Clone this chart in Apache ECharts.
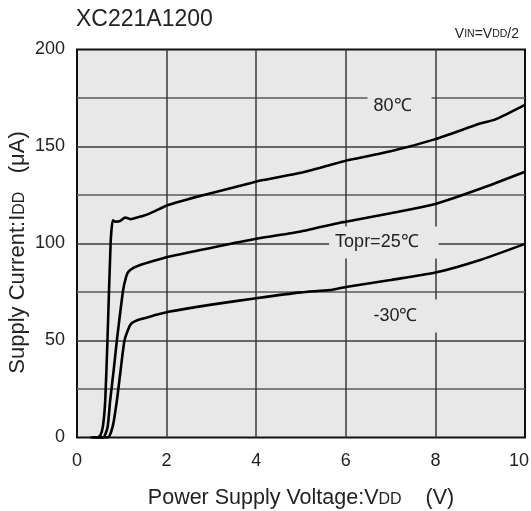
<!DOCTYPE html>
<html>
<head>
<meta charset="utf-8">
<script src="https://cdn.jsdelivr.net/npm/echarts@6/dist/echarts.min.js"></script>
<style>
html,body{margin:0;padding:0;background:#fff;}
#c{width:531px;height:511px;}
</style>
</head>
<body>
<div id="c"></div>
<script>
// ---- data ----
const titleText = 'XC221A1200';
const xTicks = [0, 2, 4, 6, 8, 10];
const yTicks = [0, 50, 100, 150, 200];

const v80 = [0.3, 0.44, 0.52, 0.58, 0.63, 0.68, 0.75, 0.80, 0.86, 0.95, 1.0, 1.07, 1.12, 1.2, 1.3, 1.45, 1.63, 2.03, 2.5, 3.12, 3.6, 4.15, 5, 5.65, 6, 7, 8, 9, 9.34, 10];
const i80 = [0, 0, 1, 6, 19, 50, 100, 112, 111.3, 111.5, 112.2, 113.4, 113.2, 112.5, 113.2, 114, 115.5, 119.8, 123, 126.7, 129.5, 132.7, 136.5, 140.5, 142.7, 147.5, 153.8, 161.8, 164, 171.5];

const v25 = [0.35, 0.58, 0.68, 0.74, 0.82, 0.89, 1.03, 1.1, 1.15, 1.25, 1.41, 1.7, 2.04, 3, 4, 5, 5.87, 6, 7, 8, 9, 10];
const i25 = [0, 0, 5, 19, 35, 50, 76, 83, 85.5, 87.3, 88.9, 91, 93.2, 97.8, 102.4, 106.2, 110.7, 111.2, 115.6, 120.4, 128.2, 137];

const vM30 = [0.45, 0.69, 0.8, 0.89, 0.97, 1.06, 1.17, 1.22, 1.3, 1.41, 1.7, 2.04, 3, 4, 5, 5.65, 6, 7, 8, 9, 10];
const iM30 = [0, 0, 6, 19, 34, 50, 57.2, 58.9, 60, 60.9, 62.8, 64.8, 68.5, 71.8, 74.8, 76, 77.6, 81.2, 85, 91.5, 99.8];

const curveLabels = ['80℃', 'Topr=25℃', '-30℃'];
const labelX = [7.2, 6.85, 7.22];
const labelY = [170.9, 100.5, 62.6];

// ---- chart ----
const FONT = '"Liberation Sans", Arial, sans-serif';
function pairs(xs, ys) { return xs.map((x, k) => [x, ys[k]]); }

const chart = echarts.init(document.getElementById('c'), null, {renderer: 'canvas'});
const lineStyle = {color: '#000', width: 2.6};
function curve(name, xs, ys) {
  return {
    type: 'line', name: name, data: pairs(xs, ys), showSymbol: false, symbol: 'none',
    smooth: 0.2, lineStyle: lineStyle, z: 3, silent: true
  };
}
const paddings = [[12, 20, 4, 6], [13, 20, 1, 6], [13, 23, 2, 13]];

chart.setOption({
  animation: false,
  backgroundColor: '#fff',
  textStyle: {fontFamily: FONT},
  title: [{
    text: titleText, left: 71, top: 3,
    textStyle: {fontFamily: FONT, fontSize: 23, fontWeight: 'normal', color: '#222'}
  }, {
    text: '{a|V}{b|IN}{a|=V}{b|DD}{a|/2}', right: 7, top: 22,
    textStyle: {fontWeight: 'normal', rich: {
      a: {fontFamily: FONT, fontSize: 14, fontWeight: 'normal', color: '#222'},
      b: {fontFamily: FONT, fontSize: 10.5, fontWeight: 'normal', color: '#222'}
    }}
  }],
  grid: {
    left: 77, right: 6, top: 49.5, bottom: 73.5, show: true,
    outerBoundsMode: 'none',
    backgroundColor: '#e8e8e8', borderColor: '#111', borderWidth: 2, containLabel: false
  },
  xAxis: {
    type: 'value', min: xTicks[0], max: xTicks[xTicks.length - 1], interval: 2,
    axisLine: {show: false}, axisTick: {show: false},
    axisLabel: {fontFamily: FONT, fontSize: 18, color: '#222', margin: 15,
      formatter: v => v === xTicks[xTicks.length - 1] ? '{last|' + v + '}' : String(v),
      rich: {last: {fontFamily: FONT, fontSize: 18, color: '#222', padding: [0, 12, 0, 0]}}},
    splitLine: {show: true, showMinLine: false, showMaxLine: false, lineStyle: {color: '#3a3a3a', width: 1.5}},
    name: 'Power Supply Voltage:V{s|DD}    (V)', nameLocation: 'middle', nameGap: 50,
    nameMoveOverlap: false,
    nameTextStyle: {fontFamily: FONT, fontSize: 21.5, color: '#222',
      rich: {s: {fontFamily: FONT, fontSize: 16, color: '#222', padding: [3, 0, 0, 0]}}}
  },
  yAxis: {
    type: 'value', min: yTicks[0], max: yTicks[yTicks.length - 1], interval: 50,
    axisLine: {show: false}, axisTick: {show: false},
    axisLabel: {fontFamily: FONT, fontSize: 18, color: '#222', margin: 12},
    splitLine: {show: true, showMinLine: false, showMaxLine: false, lineStyle: {color: '#3a3a3a', width: 1.5}},
    minorTick: {show: false, splitNumber: 2},
    minorSplitLine: {show: true, lineStyle: {color: '#5a5a5a', width: 1.5}},
    name: 'Supply Current:I{s|DD}   (μA)', nameLocation: 'middle', nameGap: 48, nameRotate: 90,
    nameMoveOverlap: false,
    nameTextStyle: {fontFamily: FONT, fontSize: 22, color: '#222', padding: [0, 18, 0, 0],
      rich: {s: {fontFamily: FONT, fontSize: 16, color: '#222', padding: [3, 0, 0, 0]}}}
  },
  series: [
    curve('80℃', v80, i80),
    curve('25℃', v25, i25),
    curve('-30℃', vM30, iM30),
    {
      type: 'scatter', symbolSize: 0, silent: true, z: 4,
      itemStyle: {opacity: 1},
      data: curveLabels.map((t, k) => ({
        value: [labelX[k], labelY[k]], name: t,
        label: {padding: paddings[k]}
      })),
      label: {
        show: true, position: 'inside', formatter: p => p.name,
        fontFamily: FONT, fontSize: 18, color: '#222', backgroundColor: '#e8e8e8',
        align: 'center', verticalAlign: 'middle', opacity: 1
      }
    }
  ]
});
</script>
</body>
</html>
